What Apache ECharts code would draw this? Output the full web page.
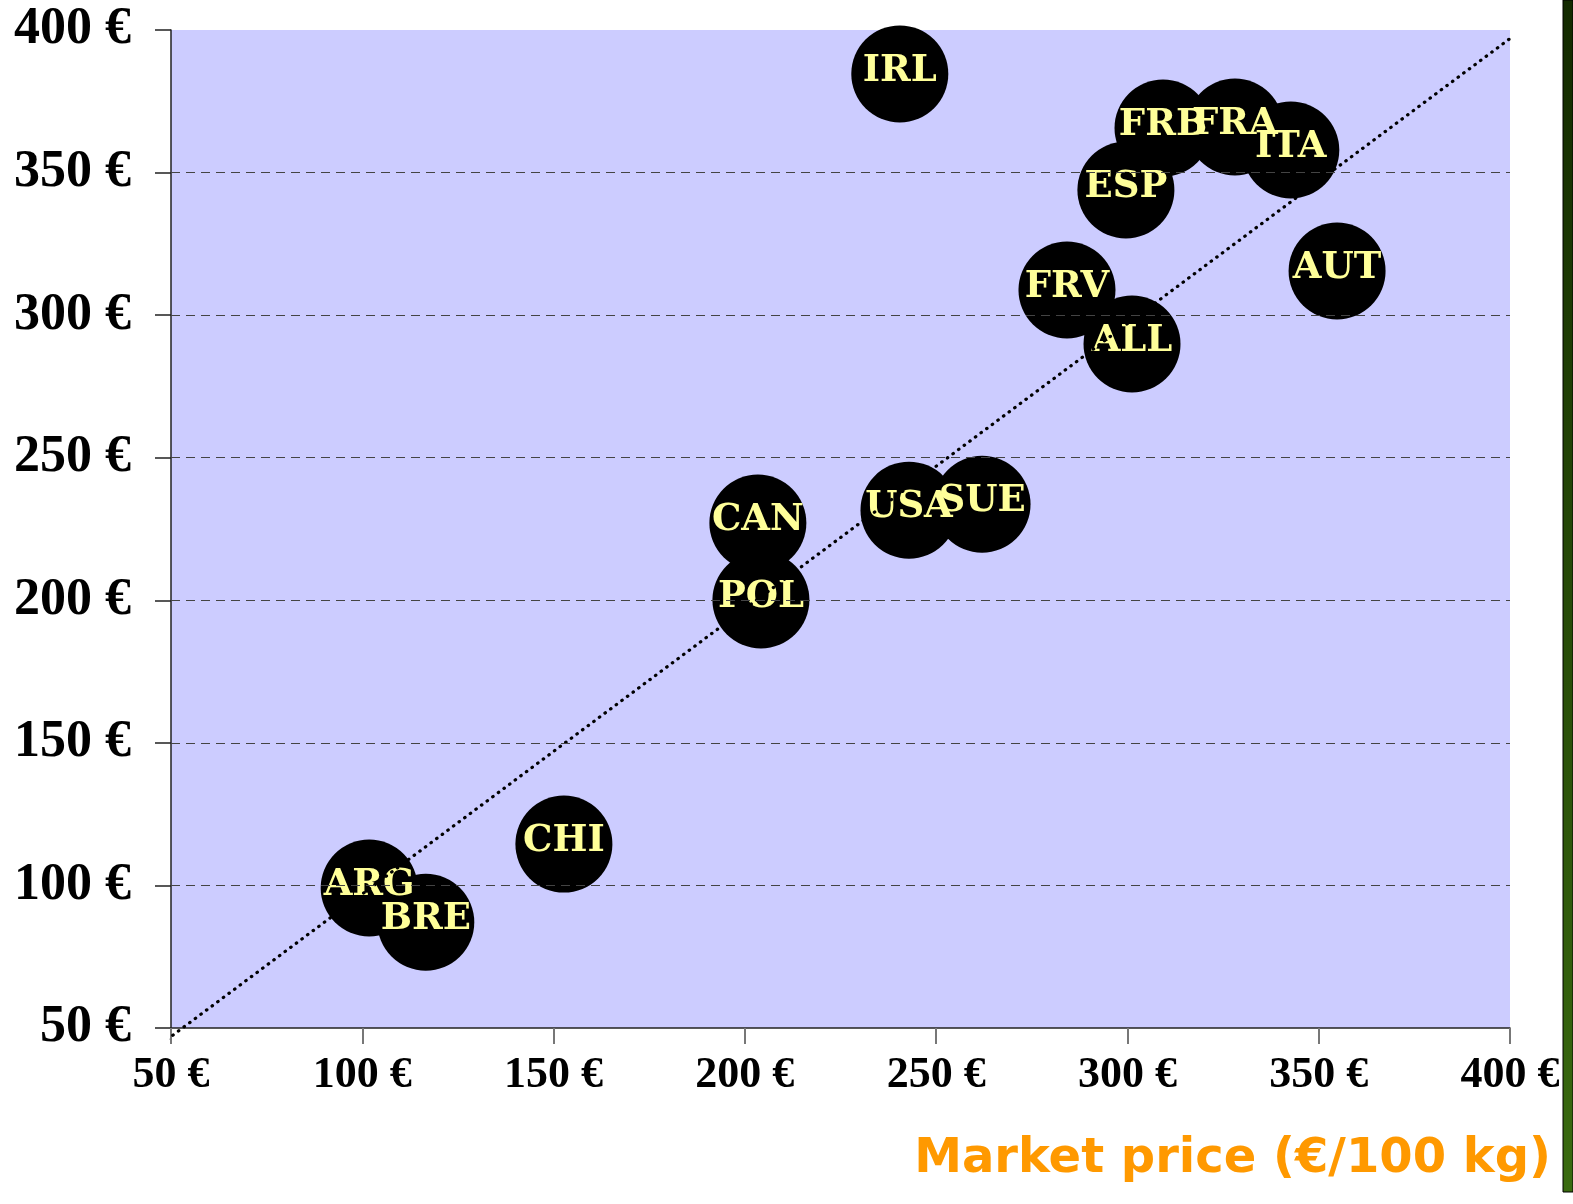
<!DOCTYPE html>
<html>
<head>
<meta charset="utf-8">
<script src="https://cdn.jsdelivr.net/npm/echarts@6/dist/echarts.min.js"></script>
<style>
html,body{margin:0;padding:0;background:#fff;}
#chart{width:1573px;height:1204px;}
</style>
</head>
<body>
<div id="chart"></div>
<script>
// Countries
var countries = ['IRL','FRB','FRA','ITA','ESP','AUT','FRV','ALL','USA','SUE','CAN','POL','CHI','ARG','BRE'];
// Market price (x, €/100 kg)
var marketPrice = [240.5, 309.3, 328.1, 342.7, 299.6, 354.8, 284.2, 301.2, 242.9, 262.0, 203.4, 204.2, 152.7, 101.8, 116.6];
// Cost (y, €/100 kg)
var costValue = [384.6, 365.6, 366.0, 357.9, 343.9, 315.5, 308.8, 289.9, 231.6, 233.7, 227.1, 200.1, 114.5, 99.1, 87.1];
// Axis ticks
var axisMin = 50, axisMax = 400, axisStep = 50;
var gridLineValues = [100, 150, 200, 250, 300, 350];
// Reference diagonal (x = y)
var diagX = [49, 401];
var diagY = [46, 398];

var pts = countries.map(function (c, i) { return { name: c, value: [marketPrice[i], costValue[i]] }; });
var diag = diagX.map(function (x, i) { return [x, diagY[i]]; });

var chart = echarts.init(document.getElementById('chart'));
chart.setOption({
  animation: false,
  grid: { left: 171, right: 63, top: 30, bottom: 176, show: true, backgroundColor: '#CCCCFF', borderWidth: 0 },
  xAxis: {
    type: 'value', min: axisMin, max: axisMax, interval: axisStep,
    axisLine: { show: true, lineStyle: { color: '#222', width: 1.5 } },
    axisTick: { show: true, length: 16, lineStyle: { color: '#777', width: 2 } },
    splitLine: { show: false },
    axisLabel: { margin: 26, color: '#000', fontFamily: 'Liberation Serif', fontWeight: 'bold', fontSize: 44,
      formatter: function (v) { return v + ' €'; } }
  },
  yAxis: {
    type: 'value', min: axisMin, max: axisMax, interval: axisStep,
    axisLine: { show: true, lineStyle: { color: '#222', width: 1.5 } },
    axisTick: { show: true, length: 16, lineStyle: { color: '#222', width: 1.5 } },
    splitLine: { show: false },
    axisLabel: { margin: 40, color: '#000', fontFamily: 'Liberation Serif', fontWeight: 'bold', fontSize: 52,
      formatter: function (v) { return v + ' €'; } }
  },
  series: [
    {
      type: 'scatter', data: pts, symbolSize: 97, z: 3,
      itemStyle: { color: '#000', opacity: 1 },
      emphasis: { disabled: true },
      markLine: {
        silent: true, symbol: 'none', label: { show: false },
        lineStyle: { type: [9, 6], color: '#444', width: 1.2 },
        data: gridLineValues.map(function (v) { return { yAxis: v }; })
      },
      label: {
        show: true, position: 'inside', offset: [0, -3],
        formatter: '{b}', color: '#FFFF99', opacity: 1,
        fontFamily: 'DejaVu Serif', fontWeight: 'bold', fontSize: 37
      }
    },
    {
      type: 'line', data: diag, symbol: 'none', clip: false, z: 4,
      lineStyle: { color: '#000', width: 3.2, type: [0.5, 6.5], cap: 'round' }
    }
  ],
  graphic: [
    {
      type: 'text', right: 22, top: 1136,
      style: {
        text: 'Market price (€/100 kg)', fill: '#FF9900',
        font: 'bold 48px "Comic Sans MS", "DejaVu Sans", sans-serif',
        textShadowColor: '#AAAAAA', textShadowOffsetX: 2, textShadowOffsetY: 2, textShadowBlur: 0
      }
    },
    {
      type: 'rect', shape: { x: 1563, y: 0, width: 10, height: 1192 },
      style: {
        fill: new echarts.graphic.LinearGradient(0, 0, 0, 1, [
          { offset: 0, color: '#132a00' }, { offset: 1, color: '#3a6b10' }
        ]),
        stroke: '#000', lineWidth: 1
      }
    }
  ]
});
</script>
</body>
</html>
